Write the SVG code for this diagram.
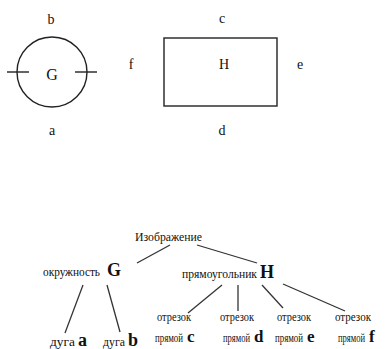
<svg xmlns="http://www.w3.org/2000/svg" width="388" height="349" viewBox="0 0 388 349">
<style>
text{font-family:"Liberation Serif","DejaVu Serif","Times New Roman",serif;fill:#111}
.lbl{font-size:14px;text-anchor:middle}
.w{font-size:12px}
.L{font-size:18px;font-weight:bold}
.L2{font-size:17px;font-weight:bold}
.s{fill:none;stroke:#222;stroke-width:1.4}
.c{stroke:#333;stroke-width:1.3}
</style>
<rect width="388" height="349" fill="#fff"/>
<g id="circleG">
<circle class="s" cx="52" cy="72" r="35"/>
<line class="s" x1="7" y1="72" x2="29" y2="72"/>
<line class="s" x1="75" y1="72" x2="97" y2="72"/>
<text class="lbl" x="52" y="80" style="font-size:16px">G</text>
<text class="lbl" x="51" y="24">b</text>
<text class="lbl" x="52" y="135">a</text>
</g>
<g id="rectH">
<rect class="s" x="164" y="38" width="113" height="68"/>
<text class="lbl" x="224" y="69">H</text>
<text class="lbl" x="222" y="23">c</text>
<text class="lbl" x="300" y="69">e</text>
<text class="lbl" x="222" y="135">d</text>
<text class="lbl" x="131" y="69">f</text>
</g>
<g id="connectors">
<line class="c" x1="170" y1="245" x2="137" y2="263"/>
<line class="c" x1="197" y1="245" x2="257" y2="263"/>
<line class="c" x1="83" y1="285" x2="65" y2="333"/>
<line class="c" x1="107" y1="285" x2="120" y2="332"/>
<line class="c" x1="222" y1="285" x2="188" y2="313"/>
<line class="c" x1="238" y1="285" x2="238" y2="311"/>
<line class="c" x1="262" y1="285" x2="283" y2="308"/>
<line class="c" x1="283" y1="284" x2="345" y2="311"/>
</g>
<g id="root"><text class="w" x="135" y="241" textLength="67" lengthAdjust="spacingAndGlyphs">Изображение</text></g>
<g id="okr"><text class="w" x="43" y="276" textLength="57" lengthAdjust="spacingAndGlyphs">окружность</text><text class="L" x="107" y="276">G</text></g>
<g id="pryam"><text class="w" x="182" y="278" textLength="75" lengthAdjust="spacingAndGlyphs">прямоугольник</text><text class="L" x="260" y="278">H</text></g>
<g id="arcA"><text class="w" transform="translate(50,346) scale(0.76,1)" textLength="32.9" lengthAdjust="spacingAndGlyphs">дуга</text><text class="L" x="78" y="346">a</text></g>
<g id="arcB"><text class="w" transform="translate(103,346) scale(0.76,1)" textLength="28.9" lengthAdjust="spacingAndGlyphs">дуга</text><text class="L" x="128" y="346">b</text></g>
<g id="segC"><text class="w" transform="translate(157,321) scale(0.76,1)" textLength="44.7" lengthAdjust="spacingAndGlyphs">отрезок</text><text class="w" transform="translate(155,342) scale(0.76,1)" textLength="36.8" lengthAdjust="spacingAndGlyphs">прямой</text><text class="L2" x="187" y="342">c</text></g>
<g id="segD"><text class="w" transform="translate(220,321) scale(0.76,1)" textLength="44.7" lengthAdjust="spacingAndGlyphs">отрезок</text><text class="w" transform="translate(223,342) scale(0.76,1)" textLength="35.5" lengthAdjust="spacingAndGlyphs">прямой</text><text class="L2" x="254" y="342">d</text></g>
<g id="segE"><text class="w" transform="translate(277,321) scale(0.76,1)" textLength="44.7" lengthAdjust="spacingAndGlyphs">отрезок</text><text class="w" transform="translate(275,342) scale(0.76,1)" textLength="36.8" lengthAdjust="spacingAndGlyphs">прямой</text><text class="L2" x="307" y="342">e</text></g>
<g id="segF"><text class="w" transform="translate(335,321) scale(0.76,1)" textLength="47.4" lengthAdjust="spacingAndGlyphs">отрезок</text><text class="w" transform="translate(338,342) scale(0.76,1)" textLength="35.5" lengthAdjust="spacingAndGlyphs">прямой</text><text class="L2" x="369" y="342">f</text></g>
</svg>
